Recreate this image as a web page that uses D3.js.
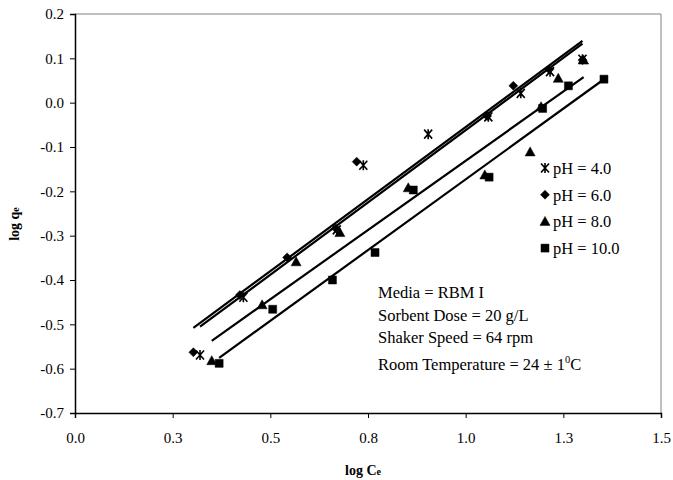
<!DOCTYPE html>
<html>
<head>
<meta charset="utf-8">
<script src="https://cdn.jsdelivr.net/npm/d3@7"></script>
<style>
  body { margin: 0; background: #fff; }
  text { font-family: "Liberation Serif", "Times New Roman", serif; fill: #000; }
</style>
</head>
<body>
<div id="chart"></div>
<script>
// series names and markers
var seriesNames = ['pH = 4.0', 'pH = 6.0', 'pH = 8.0', 'pH = 10.0'];
var seriesMarks = ['star', 'diamond', 'triangle', 'square'];

// log Ce values for each series
var xPH4 = [0.320, 0.431, 0.670, 0.738, 0.904, 1.058, 1.141, 1.216, 1.299];
var xPH6 = [0.303, 0.422, 0.543, 0.668, 0.721, 1.055, 1.122, 1.214, 1.299];
var xPH8 = [0.350, 0.479, 0.566, 0.678, 0.853, 1.049, 1.165, 1.193, 1.237, 1.302];
var xPH10 = [0.369, 0.506, 0.659, 0.768, 0.866, 1.060, 1.197, 1.263, 1.354];

// log qe values for each series
var yPH4 = [-0.569, -0.439, -0.287, -0.141, -0.071, -0.032, 0.021, 0.070, 0.098];
var yPH6 = [-0.563, -0.434, -0.349, -0.284, -0.133, -0.030, 0.038, 0.075, 0.096];
var yPH8 = [-0.582, -0.456, -0.359, -0.293, -0.192, -0.163, -0.111, -0.009, 0.055, 0.096];
var yPH10 = [-0.588, -0.466, -0.400, -0.338, -0.197, -0.168, -0.013, 0.038, 0.053];

// linear trendlines (slope, intercept)
var trendSlope = [0.652, 0.650, 0.625, 0.638];
var trendIntercept = [-0.714, -0.705, -0.756, -0.811];

// axis ticks
var xTicks = [0, 0.25, 0.5, 0.75, 1.0, 1.25, 1.5];
var yTicks = [0.2, 0.1, 0.0, -0.1, -0.2, -0.3, -0.4, -0.5, -0.6, -0.7];

var notes = ['Media = RBM I', 'Sorbent Dose = 20 g/L', 'Shaker Speed = 64 rpm'];

var width = 673, height = 480;
var margin = { left: 75, right: 12, top: 14, bottom: 67 };

var svg = d3.select('#chart').append('svg')
  .attr('width', width)
  .attr('height', height);

var x = d3.scaleLinear().domain([0, 1.5]).range([margin.left, width - margin.right]);
var y = d3.scaleLinear().domain([-0.7, 0.2]).range([height - margin.bottom, margin.top]);

var xs = [xPH4, xPH6, xPH8, xPH10];
var ys = [yPH4, yPH6, yPH8, yPH10];
var series = seriesNames.map(function (name, i) {
  return {
    name: name,
    mark: seriesMarks[i],
    points: xs[i].map(function (v, j) { return [v, ys[i][j]]; }),
    slope: trendSlope[i],
    intercept: trendIntercept[i]
  };
});

// plot frame (top / right in grey)
svg.append('path')
  .attr('d', 'M' + x(0) + ',' + y(0.2) + 'H' + x(1.5) + 'V' + y(-0.7))
  .attr('fill', 'none')
  .attr('stroke', '#808080')
  .attr('stroke-width', 1);

// axes
var xAxis = d3.axisBottom(x).tickValues(xTicks).tickSize(5).tickPadding(14)
  .tickFormat(d3.format('.1f'));
var yAxis = d3.axisLeft(y).tickValues(yTicks).tickSize(5).tickPadding(6)
  .tickFormat(d3.format('.1f'));

var gx = svg.append('g')
  .attr('transform', 'translate(0,' + y(-0.7) + ')')
  .call(xAxis);
var gy = svg.append('g')
  .attr('transform', 'translate(' + x(0) + ',0)')
  .call(yAxis);

[gx, gy].forEach(function (g) {
  g.select('.domain').attr('stroke', '#000').attr('stroke-width', 1.5);
  g.selectAll('.tick line').attr('stroke', '#000');
  g.selectAll('.tick text')
    .style('font-family', '"Liberation Serif", serif')
    .style('font-size', '15px');
});
// Excel-style negative labels with hyphen
gy.selectAll('.tick text').text(function (d) { return d3.format('.1f')(d).replace('\u2212', '-'); });

// trendlines
series.forEach(function (s) {
  var x0 = d3.min(s.points, function (p) { return p[0]; });
  var x1 = d3.max(s.points, function (p) { return p[0]; });
  svg.append('line')
    .attr('x1', x(x0)).attr('y1', y(s.slope * x0 + s.intercept))
    .attr('x2', x(x1)).attr('y2', y(s.slope * x1 + s.intercept))
    .attr('stroke', '#000')
    .attr('stroke-width', 2.2);
});

// markers
function markPath(kind) {
  if (kind === 'star') {
    return 'M-4,-4.5L4,4.5M-4,4.5L4,-4.5M0,-5V5';
  }
  if (kind === 'diamond') return 'M0,-4.5L4.5,0L0,4.5L-4.5,0Z';
  if (kind === 'triangle') return 'M0,-5L5,4L-5,4Z';
  return 'M-4,-4H4V4H-4Z';
}
function drawMark(g, kind) {
  g.append('path')
    .attr('d', markPath(kind))
    .attr('fill', kind === 'star' ? 'none' : '#000')
    .attr('stroke', '#000')
    .attr('stroke-width', kind === 'star' ? 1.6 : 0.5);
}

series.forEach(function (s) {
  s.points.forEach(function (p) {
    var g = svg.append('g').attr('transform', 'translate(' + x(p[0]) + ',' + y(p[1]) + ')');
    drawMark(g, s.mark);
  });
});

// legend
var legend = svg.append('g').attr('transform', 'translate(545,168)');
legend.append('rect')
  .attr('x', -9).attr('y', -12)
  .attr('width', 112).attr('height', 94)
  .attr('fill', '#fff');
series.forEach(function (s, i) {
  var row = legend.append('g').attr('transform', 'translate(0,' + i * 26.7 + ')');
  drawMark(row, s.mark);
  row.append('text')
    .attr('x', 8).attr('y', 6)
    .style('font-size', '16.5px')
    .text(s.name);
});

// conditions note
var note = svg.append('g').attr('transform', 'translate(378,298)');
notes.forEach(function (t, i) {
  note.append('text')
    .attr('y', i * 22.5)
    .style('font-size', '16.5px')
    .text(t);
});
var temp = note.append('text')
  .attr('y', 72)
  .style('font-size', '16.5px');
temp.append('tspan').text('Room Temperature = 24 \u00b1 1');
temp.append('tspan').attr('dy', -7).style('font-size', '10.5px').text('0');
temp.append('tspan').attr('dy', 7).text('C');

// axis titles
var xt = svg.append('text')
  .attr('x', 363).attr('y', 475)
  .attr('text-anchor', 'middle')
  .style('font-size', '14px')
  .style('font-weight', 'bold');
xt.append('tspan').text('log C');
xt.append('tspan').style('font-size', '10px').text('e');

var yt = svg.append('text')
  .attr('transform', 'translate(19,224) rotate(-90)')
  .attr('text-anchor', 'middle')
  .style('font-size', '14px')
  .style('font-weight', 'bold');
yt.append('tspan').text('log q');
yt.append('tspan').style('font-size', '10px').text('e');
</script>
</body>
</html>
